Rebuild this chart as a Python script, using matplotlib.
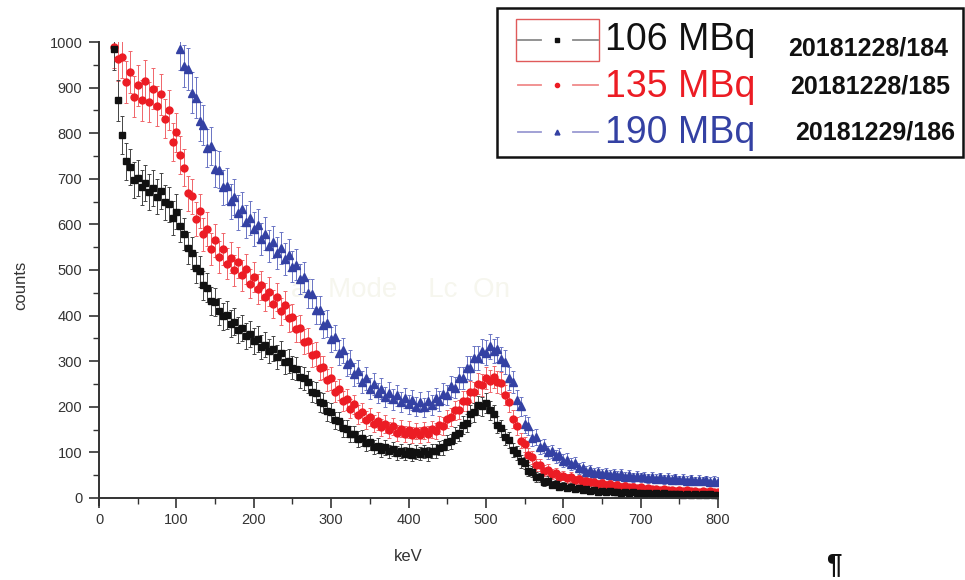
import numpy as np
import matplotlib
matplotlib.use("Agg")
import matplotlib.pyplot as plt
from matplotlib.lines import Line2D
from matplotlib.patches import Rectangle

plt.rcParams["font.family"] = ["Liberation Sans", "DejaVu Sans"]

# spectra, 5 keV bins
kev_step = 5
black_start = 20
red_start = 20
blue_start = 105

counts_106 = [
    985, 872, 796, 738, 726, 698, 702, 681, 690, 671,
    680, 661, 673, 648, 644, 615, 628, 597, 579, 548,
    538, 505, 497, 466, 461, 432, 430, 409, 398, 401,
    382, 387, 369, 373, 355, 360, 344, 349, 331, 336,
    322, 327, 309, 318, 298, 301, 286, 283, 265, 262,
    254, 233, 231, 210, 208, 190, 188, 170, 168, 153,
    152, 140, 141, 129, 131, 120, 122, 112, 115, 106,
    111, 102, 107, 99, 104, 97, 103, 95, 101, 97,
    102, 96, 104, 103, 110, 111, 122, 124, 139, 143,
    160, 165, 184, 188, 203, 201, 208, 192, 184, 161,
    153, 133, 127, 106, 99, 80, 76, 60, 58, 46,
    45, 35, 38, 29, 31, 25, 27, 22, 25, 19,
    22, 17, 19, 16, 18, 14, 16, 13, 15, 12,
    14, 11, 13, 10, 12, 10, 11, 9, 11, 9,
    10, 8, 10, 8, 9, 8, 9, 7, 9, 7,
    8, 7, 8, 6, 8, 7, 7,
]

counts_135 = [
    990, 962, 968, 912, 935, 880, 905, 872, 915, 868,
    897, 860, 885, 832, 850, 781, 802, 752, 724, 668,
    662, 611, 630, 578, 590, 547, 565, 528, 545, 514,
    527, 499, 517, 488, 502, 470, 484, 458, 466, 441,
    452, 426, 441, 409, 424, 394, 396, 370, 372, 343,
    345, 313, 316, 285, 287, 259, 262, 233, 238, 212,
    216, 196, 205, 183, 188, 172, 177, 163, 169, 155,
    162, 149, 157, 143, 152, 141, 150, 138, 147, 137,
    148, 140, 151, 147, 160, 158, 174, 178, 192, 193,
    213, 212, 233, 232, 251, 248, 263, 257, 266, 255,
    252, 226, 210, 174, 158, 126, 118, 94, 89, 73,
    72, 60, 62, 53, 55, 47, 49, 43, 46, 39,
    41, 36, 38, 34, 36, 31, 33, 29, 31, 27,
    29, 25, 27, 23, 25, 21, 23, 20, 22, 19,
    20, 18, 19, 17, 18, 16, 17, 15, 17, 15,
    16, 14, 15, 13, 15, 13, 14,
]

counts_190 = [
    985, 948, 941, 889, 878, 826, 818, 768, 772, 722,
    720, 681, 684, 651, 660, 626, 634, 606, 614, 590,
    598, 568, 580, 553, 561, 538, 548, 524, 533, 507,
    512, 480, 484, 449, 448, 412, 413, 380, 383, 348,
    352, 319, 324, 293, 298, 271, 278, 254, 262, 240,
    250, 230, 240, 222, 231, 216, 225, 210, 219, 205,
    214, 200, 211, 199, 212, 204, 219, 212, 229, 226,
    245, 242, 263, 263, 286, 285, 307, 306, 322, 319,
    333, 322, 326, 305, 298, 262, 255, 215, 201, 162,
    158, 131, 133, 112, 114, 100, 102, 91, 94, 82,
    84, 74, 76, 65, 66, 58, 61, 54, 57, 52,
    55, 50, 53, 48, 52, 47, 50, 45, 49, 45,
    47, 43, 46, 42, 45, 41, 44, 40, 43, 39,
    42, 38, 41, 37, 40, 37, 39, 36, 38, 36,
]

labels = ["106 MBq", "135 MBq", "190 MBq"]
run_ids = ["20181228/184", "20181228/185", "20181229/186"]


def main():
    fig = plt.figure(figsize=(9.65, 5.8), dpi=100)
    W, H = 965.0, 580.0
    ax = fig.add_axes([99 / W, 1 - 504.8 / H, 619 / W, 462.8 / H])

    # faint leftover text behind the data
    ax.text(248, 455, "al  Mode    Lc  On", fontsize=20, color="#f6f6ee",
            ha="left", va="center", zorder=0)

    series = [
        (blue_start, counts_190, "#3441a3", "#6a74c4", "^", 5.5),
        (red_start, counts_135, "#ec1c24", "#f0656a", "o", 5.0),
        (black_start, counts_106, "#111111", "#444444", "s", 4.2),
    ]
    for start, vals, col, ecol, mk, ms in series:
        y = np.array(vals, dtype=float)
        x = start + kev_step * np.arange(len(y))
        err = 1.5 * np.sqrt(y)
        ax.errorbar(x, y, yerr=err, fmt=mk, color=col, ms=ms, mec=col,
                    ecolor=ecol, elinewidth=0.7, capsize=1.5, capthick=0.7,
                    linestyle="none")

    ax.set_xlim(0, 800)
    ax.set_ylim(-15, 1000)
    ax.spines["top"].set_visible(False)
    ax.spines["right"].set_visible(False)
    ax.spines["bottom"].set_position(("data", 0))
    for s in ("left", "bottom"):
        ax.spines[s].set_linewidth(1.4)
        ax.spines[s].set_color("#333333")
    ax.set_xticks(np.arange(0, 801, 100))
    ax.set_xticks(np.arange(0, 801, 50), minor=True)
    ax.set_yticks(np.arange(0, 1001, 100))
    ax.set_yticks(np.arange(0, 1001, 50), minor=True)
    ax.tick_params(which="major", direction="out", length=7, width=1.2,
                   colors="#333333", labelsize=10.5, labelcolor="#333333")
    ax.tick_params(which="minor", direction="out", length=4, width=1.0,
                   colors="#333333")
    ax.tick_params(axis="x", pad=4)
    ax.tick_params(axis="y", pad=5)

    ax.set_xlabel("keV", fontsize=12, color="#333333")
    ax.set_ylabel("counts", fontsize=12, color="#333333")
    ax.xaxis.set_label_coords(0.499, -0.095)
    ax.yaxis.set_label_coords(-0.115, 0.475)

    # legend drawn by hand, in pixel positions of the figure
    def fx(px):
        return px / W

    def fy(py):
        return 1 - py / H

    fig.add_artist(Rectangle((fx(497), fy(157)), fx(963) - fx(497),
                             fy(8) - fy(157), transform=fig.transFigure,
                             fill=False, ec="#111111", lw=1.8))
    fig.add_artist(Rectangle((fx(516), fy(61)), fx(599) - fx(516),
                             fy(19) - fy(61), transform=fig.transFigure,
                             fill=False, ec="#e05a5a", lw=1.0))

    rows = [
        (40, 50, 55, 788, "#111111", "#8a8a8a", "s", 3.0),
        (85, 97, 93, 790, "#ec1c24", "#f08a8a", "o", 3.0),
        (132, 143, 140, 795, "#3441a3", "#9a9ad2", "^", 3.5),
    ]
    for (hy, base, dbase, dx, col, lcol, mk, ms), lab, rid in zip(rows, labels, run_ids):
        for x1, x2 in ((518, 541), (573, 598)):
            fig.add_artist(Line2D([fx(x1), fx(x2)], [fy(hy), fy(hy)],
                                  transform=fig.transFigure, color=lcol, lw=1.3))
        fig.add_artist(Line2D([fx(557)], [fy(hy)], transform=fig.transFigure,
                              marker=mk, ms=ms, color=col, linestyle="none"))
        fig.text(fx(605), fy(base), lab, fontsize=27, color=col,
                 ha="left", va="baseline")
        fig.text(fx(dx), fy(dbase), rid, fontsize=18, fontweight="bold",
                 color="#111111", ha="left", va="baseline")

    fig.text(fx(826), fy(572), "\u00b6", fontsize=20, fontweight="bold",
             color="#111111", ha="left", va="baseline")

    fig.savefig("out.png", dpi=100)


if __name__ == "__main__":
    main()
